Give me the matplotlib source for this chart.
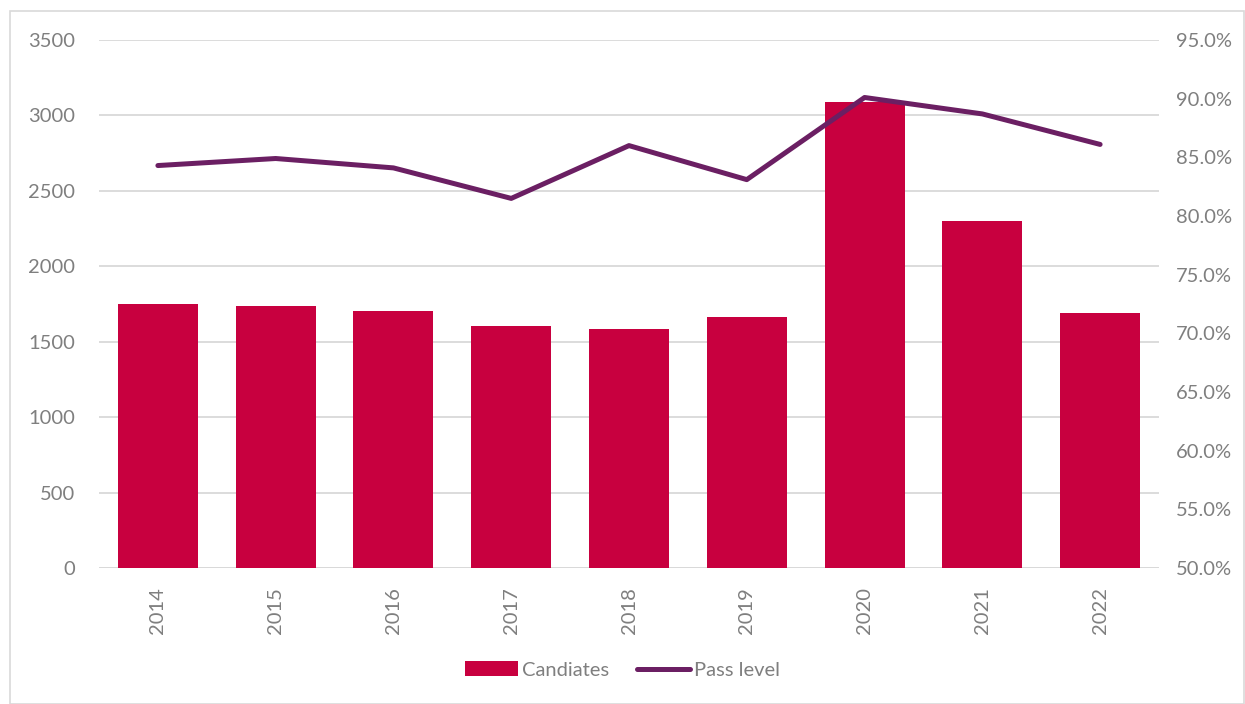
import matplotlib
matplotlib.use("Agg")
import matplotlib.pyplot as plt
from matplotlib.patches import Rectangle
from matplotlib.ticker import FuncFormatter

years = ["2014", "2015", "2016", "2017", "2018", "2019", "2020", "2021", "2022"]
candidates = [1750, 1737, 1704, 1605, 1585, 1664, 3090, 2301, 1691]
pass_level = [84.3, 84.9, 84.1, 81.5, 86.0, 83.1, 90.1, 88.7, 86.1]

BAR = "#C8003F"
LINE = "#6B1F63"
TXT = "#7F7F7F"
GRID = "#D9D9D9"
FS = 14.5

plt.rcParams["font.family"] = ["Lato", "DejaVu Sans"]

fig = plt.figure(figsize=(12.45, 7.04), dpi=100)
ax = fig.add_axes([99 / 1245, 136 / 704, 1060 / 1245, 528 / 704])
x = list(range(len(years)))
ax.bar(x, candidates, width=0.68, color=BAR, zorder=2, label="Candiates")
ax.set_xlim(-0.5, len(years) - 0.5)
ax.set_ylim(0, 3500)
ax.set_yticks(range(0, 3501, 500))
ax.grid(axis="y", color=GRID, lw=1.3, zorder=0)
ax.set_xticks(x)
ax.set_xticklabels(years, rotation=90)
for s in ax.spines.values():
    s.set_visible(False)
ax.axhline(0, color=GRID, lw=1.3, zorder=1)
ax.tick_params(length=0, labelsize=FS, colors=TXT)
ax.tick_params(axis="y", pad=17)
ax.tick_params(axis="x", pad=14)

ax2 = ax.twinx()
ax2.plot(x, pass_level, color=LINE, lw=3.6, solid_capstyle="round", zorder=3,
         label="Pass level")
ax2.set_ylim(50, 95)
ax2.set_yticks(range(50, 96, 5))
ax2.yaxis.set_major_formatter(FuncFormatter(lambda v, p: "%.1f%%" % v))
for s in ax2.spines.values():
    s.set_visible(False)
ax2.tick_params(length=0, labelsize=FS, colors=TXT, pad=12)

h1, l1 = ax.get_legend_handles_labels()
h2, l2 = ax2.get_legend_handles_labels()
fig.legend(h1 + h2, l1 + l2, loc="center", bbox_to_anchor=(0.5, 34 / 704), ncol=2,
           frameon=False, fontsize=FS, labelcolor=TXT, handlelength=2.6,
           handleheight=0.7, handletextpad=0.2, columnspacing=1.4)

fig.add_artist(Rectangle((10 / 1245, 0), 1234 / 1245, 693 / 704, transform=fig.transFigure,
                         fill=False, edgecolor=GRID, lw=1.2))

fig.savefig("out.png", dpi=100)
